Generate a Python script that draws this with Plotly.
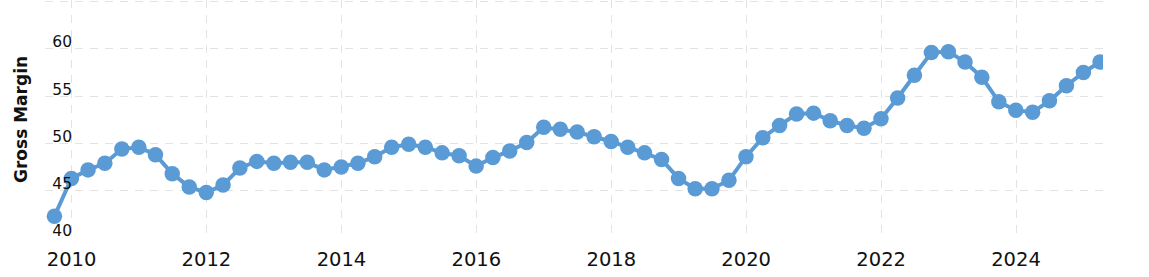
import plotly.graph_objects as go
import pandas as pd

dates = pd.date_range("2009-09-30", periods=63, freq="QE").strftime("%Y-%m-%d").tolist()
gross_margin = [
    42.3, 46.3, 47.2, 47.9, 49.4, 49.6, 48.8, 46.8, 45.4, 44.8,
    45.6, 47.4, 48.1, 47.9, 48.0, 48.0, 47.2, 47.5, 47.9, 48.6,
    49.6, 49.9, 49.6, 49.0, 48.7, 47.6, 48.5, 49.2, 50.1, 51.7,
    51.5, 51.2, 50.7, 50.2, 49.6, 49.0, 48.3, 46.3, 45.2, 45.2,
    46.1, 48.6, 50.6, 51.9, 53.1, 53.2, 52.4, 51.9, 51.6, 52.6,
    54.8, 57.2, 59.6, 59.7, 58.6, 57.0, 54.4, 53.5, 53.3, 54.5,
    56.1, 57.5, 58.6,
]
y_ticks = [40, 45, 50, 55, 60, 65]
y_tick_text = ["40", "45", "50", "55", "60", ""]

color = "#5b9bd5"
grid = "#e3e3e3"

fig = go.Figure(go.Scatter(
    x=dates, y=gross_margin, mode="lines+markers",
    line=dict(color=color, width=4),
    marker=dict(color=color, size=15.5),
    hoverinfo="x+y",
))

fig.update_layout(
    width=1149, height=277,
    margin=dict(l=45, r=46, t=0, b=39),
    paper_bgcolor="white", plot_bgcolor="white",
    showlegend=False,
    font=dict(family="DejaVu Sans", color="#111111"),
    xaxis=dict(
        type="date",
        range=["2009-08-10", "2025-04-16"],
        tick0="2010-01-01", dtick="M24", tickformat="%Y",
        showgrid=True, gridcolor=grid, griddash="8px,7px", gridwidth=1,
        zeroline=False, showline=False, ticks="",
        ticklabelstandoff=7,
        tickfont=dict(size=19.5, color="#111111"),
    ),
    yaxis=dict(
        range=[40, 65.16],
        tickmode="array", tickvals=y_ticks, ticktext=y_tick_text,
        ticklabelposition="outside",
        ticklabelstandoff=-28, ticklabelshift=-7,
        showgrid=True, gridcolor=grid, griddash="8px,7px", gridwidth=1,
        zeroline=False, showline=False, ticks="",
        tickfont=dict(size=15.5, color="#111111"),
    ),
    annotations=[dict(
        text="<b>Gross Margin</b>", textangle=-90,
        xref="paper", yref="paper", x=-0.0227, y=0.5,
        xanchor="center", yanchor="middle", showarrow=False,
        font=dict(size=17, color="#111111", family="DejaVu Sans"),
    )],
)

fig.write_html("out.html")
